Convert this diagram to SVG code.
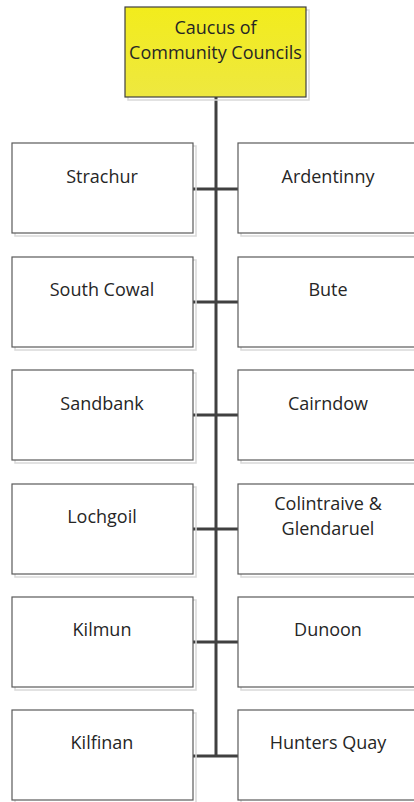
<svg xmlns="http://www.w3.org/2000/svg" width="414" height="802" viewBox="0 0 414 802">
<defs>
<linearGradient id="yg" x1="0" y1="0" x2="0" y2="1">
<stop offset="0" stop-color="#f2ec1c"/>
<stop offset="1" stop-color="#eee840"/>
</linearGradient>
</defs>
<style>
.box{fill:#fff;stroke:#5a5a5a;stroke-width:1.2}
.sh{fill:none;stroke:#d9d9d9;stroke-width:1.5}
.t{font-family:"Open Sans","Liberation Sans",sans-serif;font-size:18px;fill:#262626;text-anchor:middle}
.c{stroke:#404040;stroke-width:3;fill:none}
</style>
<rect width="414" height="802" fill="#fff"/>
<g id="connectors">
<line class="c" x1="216" y1="97" x2="216" y2="756"/>
<line class="c" x1="193" y1="189" x2="238" y2="189"/>
<line class="c" x1="193" y1="302" x2="238" y2="302"/>
<line class="c" x1="193" y1="415" x2="238" y2="415"/>
<line class="c" x1="193" y1="529" x2="238" y2="529"/>
<line class="c" x1="193" y1="642" x2="238" y2="642"/>
<line class="c" x1="193" y1="756" x2="238" y2="756"/>
</g>
<g id="caucus">
<rect class="sh" x="128" y="10" width="181" height="90"/>
<rect x="125" y="7" width="181" height="90" fill="url(#yg)" stroke="#404040" stroke-width="1.2"/>
<text class="t" x="215.5" y="34">Caucus of</text>
<text class="t" x="215.5" y="59">Community Councils</text>
</g>
<g id="strachur"><rect class="sh" x="15" y="146" width="181" height="90"/><rect class="box" x="12" y="143" width="181" height="90"/><text class="t" x="102" y="183">Strachur</text></g>
<g id="ardentinny"><rect class="sh" x="241" y="146" width="181" height="90"/><rect class="box" x="238" y="143" width="181" height="90"/><text class="t" x="328" y="183">Ardentinny</text></g>
<g id="south-cowal"><rect class="sh" x="15" y="260" width="181" height="90"/><rect class="box" x="12" y="257" width="181" height="90"/><text class="t" x="102" y="296">South Cowal</text></g>
<g id="bute"><rect class="sh" x="241" y="260" width="181" height="90"/><rect class="box" x="238" y="257" width="181" height="90"/><text class="t" x="328" y="296">Bute</text></g>
<g id="sandbank"><rect class="sh" x="15" y="373" width="181" height="90"/><rect class="box" x="12" y="370" width="181" height="90"/><text class="t" x="102" y="410">Sandbank</text></g>
<g id="cairndow"><rect class="sh" x="241" y="373" width="181" height="90"/><rect class="box" x="238" y="370" width="181" height="90"/><text class="t" x="328" y="410">Cairndow</text></g>
<g id="lochgoil"><rect class="sh" x="15" y="487" width="181" height="90"/><rect class="box" x="12" y="484" width="181" height="90"/><text class="t" x="102" y="523">Lochgoil</text></g>
<g id="colintraive"><rect class="sh" x="241" y="487" width="181" height="90"/><rect class="box" x="238" y="484" width="181" height="90"/><text class="t" x="328" y="510">Colintraive &amp;</text><text class="t" x="328" y="535">Glendaruel</text></g>
<g id="kilmun"><rect class="sh" x="15" y="600" width="181" height="90"/><rect class="box" x="12" y="597" width="181" height="90"/><text class="t" x="102" y="636">Kilmun</text></g>
<g id="dunoon"><rect class="sh" x="241" y="600" width="181" height="90"/><rect class="box" x="238" y="597" width="181" height="90"/><text class="t" x="328" y="636">Dunoon</text></g>
<g id="kilfinan"><rect class="sh" x="15" y="713" width="181" height="90"/><rect class="box" x="12" y="710" width="181" height="90"/><text class="t" x="102" y="749">Kilfinan</text></g>
<g id="hunters-quay"><rect class="sh" x="241" y="713" width="181" height="90"/><rect class="box" x="238" y="710" width="181" height="90"/><text class="t" x="328" y="749">Hunters Quay</text></g>
</svg>
